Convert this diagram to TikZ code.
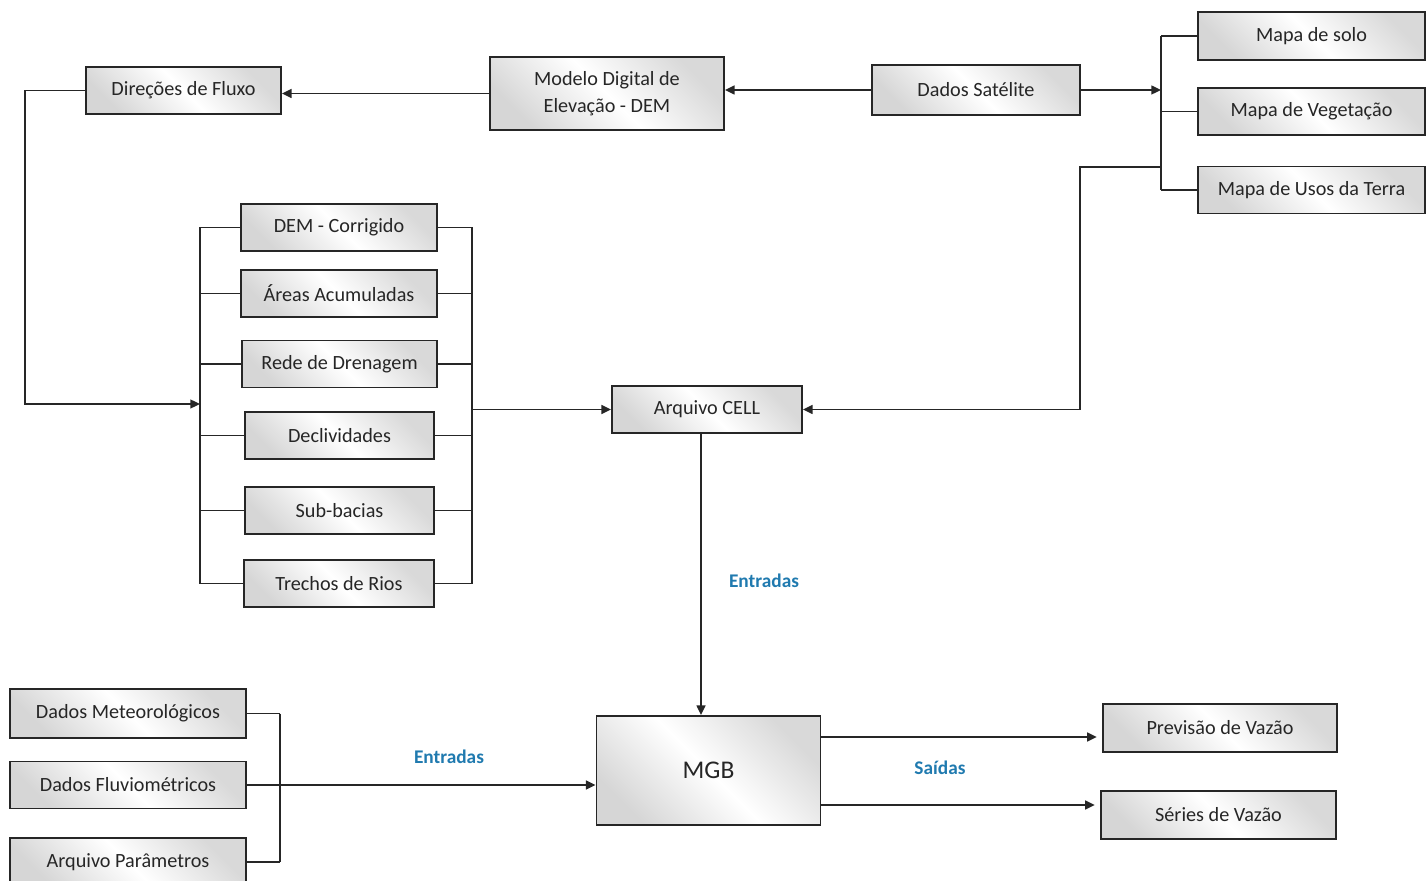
\documentclass[tikz,border=0pt]{standalone}
\usepackage{fontspec}
\setmainfont{Carlito}
\usetikzlibrary{arrows.meta}
\definecolor{tagblue}{RGB}{32,122,175}
\definecolor{boxtext}{RGB}{38,38,38}
\tikzset{
	box/.style={draw=black!85, line width=1.1pt, left color=gray!32, right color=gray!30, middle color=white, shading angle=135, text=boxtext, font=\fontsize{11.5}{15.5}\selectfont, minimum height=0.94cm, align=center, inner sep=0pt},
	link/.style={line width=1.1pt, draw=black!85},
	arr/.style={link, -{Triangle[length=5.5pt,width=5pt]}},
	tag/.style={text=tagblue, font=\fontsize{11}{13}\selectfont\bfseries}
}
\begin{document}
\begin{tikzpicture}[x=0.02cm, y=-0.02cm]
	\useasboundingbox (0,0) rectangle (1426,881);

	% top row
	\node [box, minimum width=3.9cm] (fluxo) at (183.5,90.5) {Direções de Fluxo};
	\node [box, minimum width=4.68cm, minimum height=1.46cm] (dem) at (607,93.5) {Modelo Digital de\\Elevação - DEM};
	\node [box, minimum width=4.16cm, minimum height=1cm] (satelite) at (976,90) {Dados Satélite};

	% maps
	\node [box, minimum width=4.54cm, minimum height=0.96cm] (solo) at (1311.5,36) {Mapa de solo};
	\node [box, minimum width=4.54cm] (veget) at (1311.5,111.5) {Mapa de Vegetação};
	\node [box, minimum width=4.54cm] (usos) at (1311.5,190) {Mapa de Usos da Terra};

	% flow products
	\node [box, minimum width=3.92cm] (demcorr) at (339,227.5) {DEM - Corrigido};
	\node [box, minimum width=3.92cm] (areas) at (339,293.5) {Áreas Acumuladas};
	\node [box, minimum width=3.9cm] (rede) at (339.5,364) {Rede de Drenagem};
	\node [box, minimum width=3.78cm] (decliv) at (339.5,435.5) {Declividades};
	\node [box, minimum width=3.78cm] (subbac) at (339.5,510.5) {Sub-bacias};
	\node [box, minimum width=3.8cm] (trechos) at (339,583.5) {Trechos de Rios};

	% model
	\node [box, minimum width=3.8cm] (cell) at (707,409.5) {Arquivo CELL};
	\node [box, minimum width=4.48cm, minimum height=2.18cm, font=\fontsize{14.5}{17}\selectfont] (mgb) at (708.5,770.5) {MGB};

	% inputs and outputs
	\node [box, minimum width=4.72cm, minimum height=0.98cm] (meteo) at (128,713.5) {Dados Meteorológicos};
	\node [box, minimum width=4.72cm] (fluvio) at (128,785) {Dados Fluviométricos};
	\node [box, minimum width=4.72cm, minimum height=0.96cm] (param) at (128,862) {Arquivo Parâmetros};
	\node [box, minimum width=4.68cm, minimum height=0.96cm] (previsao) at (1220,728) {Previsão de Vazão};
	\node [box, minimum width=4.7cm, minimum height=0.96cm] (series) at (1218.5,815) {Séries de Vazão};

	% top connectors
	\draw [arr] (satelite.west) -- (satelite.west -| dem.east);
	\draw [arr] (dem.west) -- (dem.west -| fluxo.east);
	\coordinate (rb) at (1161,94);
	\draw [arr] (satelite.east) -- (satelite.east -| rb);
	\draw [link] (rb |- solo.west) -- (rb |- usos.west);
	\foreach \m in {solo,veget,usos}
		\draw [link] (rb |- \m.west) -- (\m.west);
	\coordinate (cc) at (1080,167);
	\draw [arr] (rb |- cc) -- (cc) |- (cell.east);

	% left bracket
	\coordinate (lin) at (200,404);
	\coordinate (fl) at (25,404);
	\draw [arr] (fluxo.west) -| (fl) -- (lin);
	\draw [link] (lin |- demcorr.west) -- (lin |- trechos.west);
	\foreach \m in {demcorr,areas,rede,decliv,subbac,trechos}
		\draw [link] (lin |- \m.west) -- (\m.west);

	% right bracket
	\coordinate (lout) at (472,411);
	\draw [link] (lout |- demcorr.east) -- (lout |- trechos.east);
	\foreach \m in {demcorr,areas,rede,decliv,subbac,trechos}
		\draw [link] (\m.east) -- (lout |- \m.east);
	\draw [arr] (lout |- cell.west) -- (cell.west);

	% into the model
	\coordinate (cd) at (701,433);
	\draw [arr] (cd) -- (cd |- mgb.north);
	\node [tag] (entcell) at (764,581) {Entradas};
	\coordinate (bin) at (280,782);
	\draw [link] (bin |- meteo.east) -- (bin |- param.east);
	\foreach \m in {meteo,fluvio,param}
		\draw [link] (\m.east) -- (bin |- \m.east);
	\draw [arr] (bin |- fluvio.east) -- (fluvio.east -| mgb.west);
	\node [tag] (entmgb) at (449,757) {Entradas};

	% outputs
	\coordinate (op) at (820,737);
	\coordinate (os) at (820,805);
	\draw [arr, shorten >=3pt] (op) -- (op -| previsao.west);
	\draw [arr, shorten >=3pt] (os) -- (os -| series.west);
	\node [tag] (saidas) at (940,768) {Saídas};

\end{tikzpicture}
\end{document}
